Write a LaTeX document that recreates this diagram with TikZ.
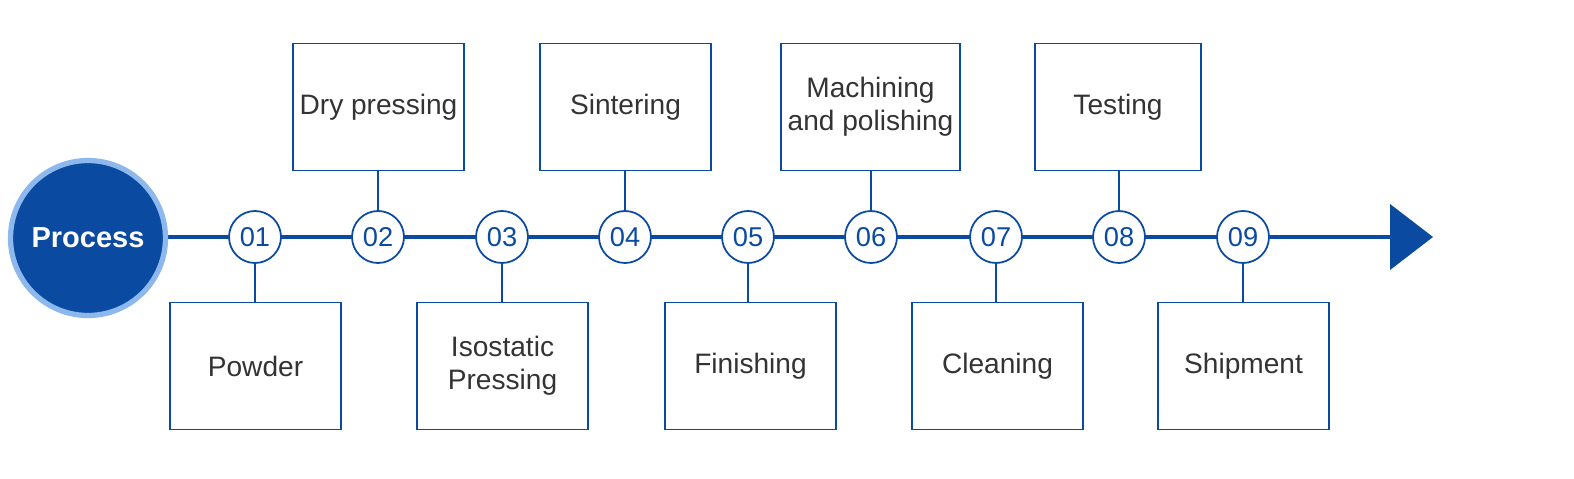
\documentclass[tikz,border=0pt]{standalone}
\usepackage{fontspec}
\setmainfont{Liberation Sans}
\usetikzlibrary{positioning}
\definecolor{procblue}{HTML}{0A4AA0}
\definecolor{ringblue}{HTML}{8DB8EE}
\definecolor{txtgray}{HTML}{333333}
\tikzset{
  stepnum/.style={draw=procblue,line width=1pt,fill=white,circle,minimum size=1.04cm,inner sep=0pt,text=procblue,font=\fontsize{15.5}{15.5}\selectfont},
  stage/.style={draw=procblue,line width=1pt,minimum width=3.42cm,minimum height=2.54cm,align=center,text=txtgray,font=\fontsize{16}{19}\selectfont},
  link/.style={draw=procblue,line width=1.5pt}
}
\begin{document}
\begin{tikzpicture}[x=0.02cm,y=-0.02cm]
  \useasboundingbox (0,0) rectangle (1574,479);
  % timeline
  \coordinate (tipbase) at (1390,237);
  \coordinate (tip) at (1433,237);
  \draw[procblue,line width=2.6pt] (160,237) -- (tipbase);
  \fill[procblue] (1390,204) -- (tip) -- (1390,270) -- cycle;
  \node[circle,fill=procblue,draw=ringblue,line width=3pt,minimum size=3.1cm,text=white,font=\bfseries\fontsize{16.5}{16.5}\selectfont] (proc) at (88,238) {Process};
  % steps
  \foreach \x/\n in {255/01,378/02,502/03,625/04,748/05,871/06,996/07,1119/08,1243/09}
    \node[stepnum] (s\n) at (\x,237) {\n};
  % upper boxes
  \node[stage] (b02) at (378.5,107) {Dry pressing};
  \node[stage] (b04) at (625.5,107) {Sintering};
  \node[stage,minimum width=3.58cm] (b06) at (870.5,107) {Machining\\and polishing};
  \node[stage,minimum width=3.32cm] (b08) at (1118,107) {Testing};
  % lower boxes
  \node[stage] (b01) at (255.5,366) {Powder};
  \node[stage] (b03) at (502.5,366) {Isostatic\\Pressing};
  \node[stage] (b05) at (750.5,366) {Finishing};
  \node[stage] (b07) at (997.5,366) {Cleaning};
  \node[stage] (b09) at (1243.5,366) {Shipment};
  % links
  \foreach \n in {02,04,06,08}
    \draw[link] (s\n.north) -- (s\n.north |- b\n.south);
  \foreach \n in {01,03,05,07,09}
    \draw[link] (s\n.south) -- (s\n.south |- b\n.north);
\end{tikzpicture}
\end{document}
